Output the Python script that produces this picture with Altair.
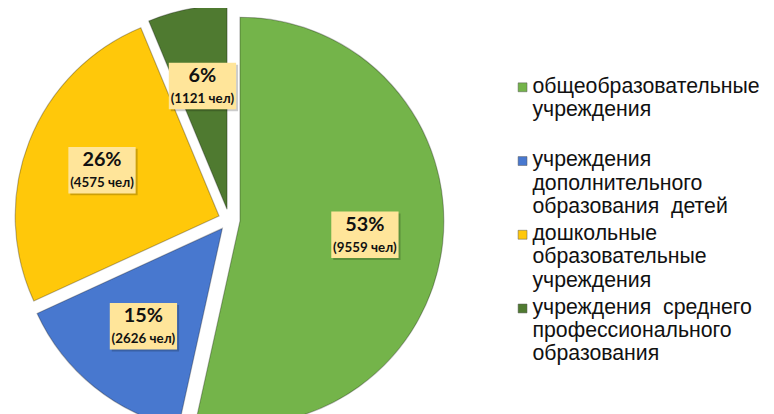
import altair as alt
import pandas as pd

# ---- data ----
categories = [
    "общеобразовательные учреждения",
    "учреждения дополнительного образования детей",
    "дошкольные образовательные учреждения",
    "учреждения среднего профессионального образования",
]
legend_text = [
    "общеобразовательные\nучреждения",
    "учреждения\nдополнительного\nобразования\u00a0 детей",
    "дошкольные\nобразовательные\nучреждения",
    "учреждения\u00a0 среднего\nпрофессионального\nобразования",
]
people = [9559, 2626, 4575, 1121]
colors = ["#74B44A", "#4878CF", "#FFC80A", "#4F7A30"]

df = pd.DataFrame({"category": categories, "people": people, "order": list(range(len(people)))})
leg = pd.DataFrame({"category": categories, "text": legend_text, "idx": list(range(len(categories)))})

# ---- layout (plot-area pixels) ----
CX, CY, R = 223.5, 212, 206
EXPLODE = 11
LR = 127
BW, BH = 34, 23.5

base = (
    alt.Chart(df)
    .transform_window(cum="sum(people)", sort=[alt.SortField("order")], frame=[None, 0])
    .transform_joinaggregate(total="sum(people)")
    .transform_calculate(
        t0="2*PI*(datum.cum - datum.people)/datum.total",
        t1="2*PI*datum.cum/datum.total",
        mid="(datum.t0 + datum.t1)/2",
        cx=f"{CX} + {EXPLODE}*sin(datum.mid)",
        cy=f"{CY} - {EXPLODE}*cos(datum.mid)",
        lx=f"datum.cx + {LR}*sin(datum.mid)",
        ly=f"datum.cy - {LR}*cos(datum.mid)",
        bx0=f"datum.lx - {BW}",
        bx1=f"datum.lx + {BW}",
        by0=f"datum.ly - {BH}",
        by1=f"datum.ly + {BH}",
        sx0=f"datum.lx - {BW} + 2",
        sx1=f"datum.lx + {BW} + 2",
        sy0=f"datum.ly - {BH} + 2",
        sy1=f"datum.ly + {BH} + 2",
        pct="format(datum.people/datum.total, '.0%')",
        cnt="'(' + datum.people + ' чел)'",
    )
)

color = alt.Color("category:N", scale=alt.Scale(domain=categories, range=colors), legend=None)

arcs = base.mark_arc(outerRadius=R, stroke="#000000", strokeOpacity=0.28, strokeWidth=1.2).encode(
    theta=alt.Theta("t0:Q", scale=None),
    theta2="t1:Q",
    x=alt.X("cx:Q", scale=None),
    y=alt.Y("cy:Q", scale=None),
    color=color,
)

shadow = base.mark_rect(color="#000000", opacity=0.2).encode(
    x=alt.X("sx0:Q", scale=None), x2="sx1:Q",
    y=alt.Y("sy0:Q", scale=None), y2="sy1:Q",
)
boxes = base.mark_rect(color="#FFE59A").encode(
    x=alt.X("bx0:Q", scale=None), x2="bx1:Q",
    y=alt.Y("by0:Q", scale=None), y2="by1:Q",
)
pct_text = base.mark_text(font="Lato", fontWeight="bold", fontSize=20, dy=-10, color="#111111").encode(
    x=alt.X("lx:Q", scale=None), y=alt.Y("ly:Q", scale=None), text="pct:N"
)
cnt_text = base.mark_text(font="Lato", fontWeight="bold", fontSize=13.5, dy=13, color="#111111").encode(
    x=alt.X("lx:Q", scale=None), y=alt.Y("ly:Q", scale=None), text="cnt:N"
)

LEG_X, LEG_Y0, LEG_STEP = 520, 78, 74.5
legbase = alt.Chart(leg).transform_calculate(
    sy=f"{LEG_Y0} + datum.idx*{LEG_STEP}",
    ty=f"{LEG_Y0} + datum.idx*{LEG_STEP} - 11.5",
    sx=f"{LEG_X}",
    tx=f"{LEG_X} + 10",
)
leg_sym = legbase.mark_square(size=81, opacity=1, stroke="#555555", strokeWidth=0.5).encode(
    x=alt.X("sx:Q", scale=None), y=alt.Y("sy:Q", scale=None), color=color
)
leg_txt = legbase.mark_text(
    align="left", baseline="top", lineBreak="\n", lineHeight=23.5,
    font="Liberation Sans", fontSize=21.5, color="#111111",
).encode(x=alt.X("tx:Q", scale=None), y=alt.Y("ty:Q", scale=None), text="text:N")

chart = (
    alt.layer(arcs, shadow, boxes, pct_text, cnt_text, leg_sym, leg_txt)
    .properties(width=766, height=406, padding=0, autosize=alt.AutoSizeParams(type="none"))
    .configure_view(stroke=None)
)

chart.save("out.html", embed_options={"renderer": "svg", "actions": False})
